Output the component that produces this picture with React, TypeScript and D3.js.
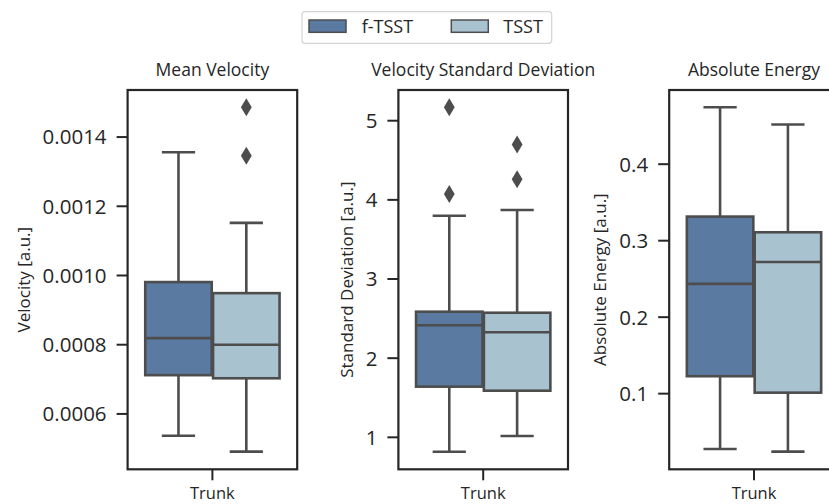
import React from "react";
import * as d3 from "d3";

// Box statistics per feature: [lower whisker, Q1, median, Q3, upper whisker]
const groups = ["f-TSST", "TSST"];
const category = "Trunk";

const meanVelocityFTSST = [0.000537, 0.000712, 0.000819, 0.000981, 0.001356];
const meanVelocityTSST = [0.000491, 0.000703, 0.0008, 0.000949, 0.001152];
const meanVelocityOutliersFTSST: number[] = [];
const meanVelocityOutliersTSST = [0.001346, 0.001486];

const stdDevFTSST = [0.818, 1.64, 2.415, 2.587, 3.8];
const stdDevTSST = [1.016, 1.589, 2.327, 2.574, 3.872];
const stdDevOutliersFTSST = [4.074, 5.169];
const stdDevOutliersTSST = [4.26, 4.7];

const energyFTSST = [0.0277, 0.1228, 0.2435, 0.3315, 0.4745];
const energyTSST = [0.0242, 0.1013, 0.2722, 0.311, 0.4518];
const energyOutliersFTSST: number[] = [];
const energyOutliersTSST: number[] = [];

const titles = ["Mean Velocity", "Velocity Standard Deviation", "Absolute Energy"];
const yLabels = ["Velocity [a.u.]", "Standard Deviation [a.u.]", "Absolute Energy [a.u.]"];
const yTicks = [
  [0.0006, 0.0008, 0.001, 0.0012, 0.0014],
  [1, 2, 3, 4, 5],
  [0.1, 0.2, 0.3, 0.4],
];
const yFormats = [".4f", "d", ".1f"];
const yLimits: [number, number][] = [
  [0.00044, 0.001536],
  [0.596, 5.388],
  [0.0011, 0.497],
];

const boxStats = [
  [meanVelocityFTSST, meanVelocityTSST],
  [stdDevFTSST, stdDevTSST],
  [energyFTSST, energyTSST],
];
const outlierStats = [
  [meanVelocityOutliersFTSST, meanVelocityOutliersTSST],
  [stdDevOutliersFTSST, stdDevOutliersTSST],
  [energyOutliersFTSST, energyOutliersTSST],
];

const fills = ["#5b7aa2", "#a9c2d0"];
const lineGray = "#4d4d4d";
const ink = "#262626";
const font = "'Open Sans', sans-serif";

const W = 829;
const H = 504;
const plotTop = 90;
const plotBottom = 469.3;
const panelLefts = [127.6, 398.4, 669.2];
const panelWidth = 169.6;
const yLabelX = [30, 353, 606];

function Panel({ i }: { i: number }) {
  const left = panelLefts[i];
  const right = left + panelWidth;
  const x = d3.scaleLinear().domain([-0.5, 0.5]).range([left, right]);
  const y = d3.scaleLinear().domain(yLimits[i]).range([plotBottom, plotTop]);
  const fmt = d3.format(yFormats[i]);
  const boxW = 0.4 * 0.98;
  const offsets = [-0.2, 0.2];
  const cx = (left + right) / 2;

  return (
    <g>
      <text x={cx} y={76} textAnchor="middle" fontFamily={font} fontSize={17.5} fill={ink}>
        {titles[i]}
      </text>
      {boxStats[i].map((s, g) => {
        const c = offsets[g];
        const x0 = x(c - boxW / 2);
        const x1 = x(c + boxW / 2);
        const xc = x(c);
        const capHalf = (x1 - x0) / 4;
        return (
          <g key={g}>
            <line x1={xc} x2={xc} y1={y(s[0])} y2={y(s[1])} stroke={lineGray} strokeWidth={2.6} />
            <line x1={xc} x2={xc} y1={y(s[3])} y2={y(s[4])} stroke={lineGray} strokeWidth={2.6} />
            <line x1={xc - capHalf} x2={xc + capHalf} y1={y(s[0])} y2={y(s[0])} stroke={lineGray} strokeWidth={2.6} />
            <line x1={xc - capHalf} x2={xc + capHalf} y1={y(s[4])} y2={y(s[4])} stroke={lineGray} strokeWidth={2.6} />
            <rect
              x={x0}
              y={y(s[3])}
              width={x1 - x0}
              height={y(s[1]) - y(s[3])}
              fill={fills[g]}
              stroke={lineGray}
              strokeWidth={2.6}
            />
            <line x1={x0} x2={x1} y1={y(s[2])} y2={y(s[2])} stroke={lineGray} strokeWidth={2.6} />
            {outlierStats[i][g].map((v, k) => {
              const py = y(v);
              return (
                <path
                  key={k}
                  d={`M${xc},${py - 9} L${xc + 5.4},${py} L${xc},${py + 9} L${xc - 5.4},${py} Z`}
                  fill={lineGray}
                />
              );
            })}
          </g>
        );
      })}
      {/* axes frame */}
      <rect
        x={left}
        y={plotTop}
        width={panelWidth}
        height={plotBottom - plotTop}
        fill="none"
        stroke={ink}
        strokeWidth={2.2}
      />
      {yTicks[i].map((t) => (
        <g key={t}>
          <line x1={left - 11} x2={left} y1={y(t)} y2={y(t)} stroke={ink} strokeWidth={2} />
          <text
            x={left - 21}
            y={y(t)}
            dy="0.36em"
            textAnchor="end"
            fontFamily={font}
            fontSize={20.5}
            fill={ink}
          >
            {fmt(t)}
          </text>
        </g>
      ))}
      <line x1={cx} x2={cx} y1={plotBottom} y2={plotBottom + 11} stroke={ink} strokeWidth={2} />
      <text x={cx} y={499} textAnchor="middle" fontFamily={font} fontSize={16.5} fill={ink}>
        {category}
      </text>
      <text
        transform={`translate(${yLabelX[i]},${(plotTop + plotBottom) / 2}) rotate(-90)`}
        textAnchor="middle"
        fontFamily={font}
        fontSize={17}
        fill={ink}
      >
        {yLabels[i]}
      </text>
    </g>
  );
}

function Legend() {
  const patchX = [309, 451.3];
  const labelX = [361.7, 503.3];
  return (
    <g>
      <rect x={302} y={11.7} width={249.7} height={31.6} rx={3} fill="#fff" stroke="#d4d4d4" strokeWidth={1.2} />
      {groups.map((gName, g) => (
        <g key={gName}>
          <rect x={patchX[g]} y={20} width={37} height={12.3} fill={fills[g]} stroke={lineGray} strokeWidth={1.5} />
          <text x={labelX[g]} y={33} fontFamily={font} fontSize={18} fill={ink}>
            {gName}
          </text>
        </g>
      ))}
    </g>
  );
}

export default function App() {
  return (
    <svg
      width={W}
      height={H}
      viewBox={`0 0 ${W} ${H}`}
      style={{ position: "absolute", left: 0, top: 0, background: "#fff" }}
    >
      {titles.map((_, i) => (
        <Panel key={i} i={i} />
      ))}
      <Legend />
    </svg>
  );
}
